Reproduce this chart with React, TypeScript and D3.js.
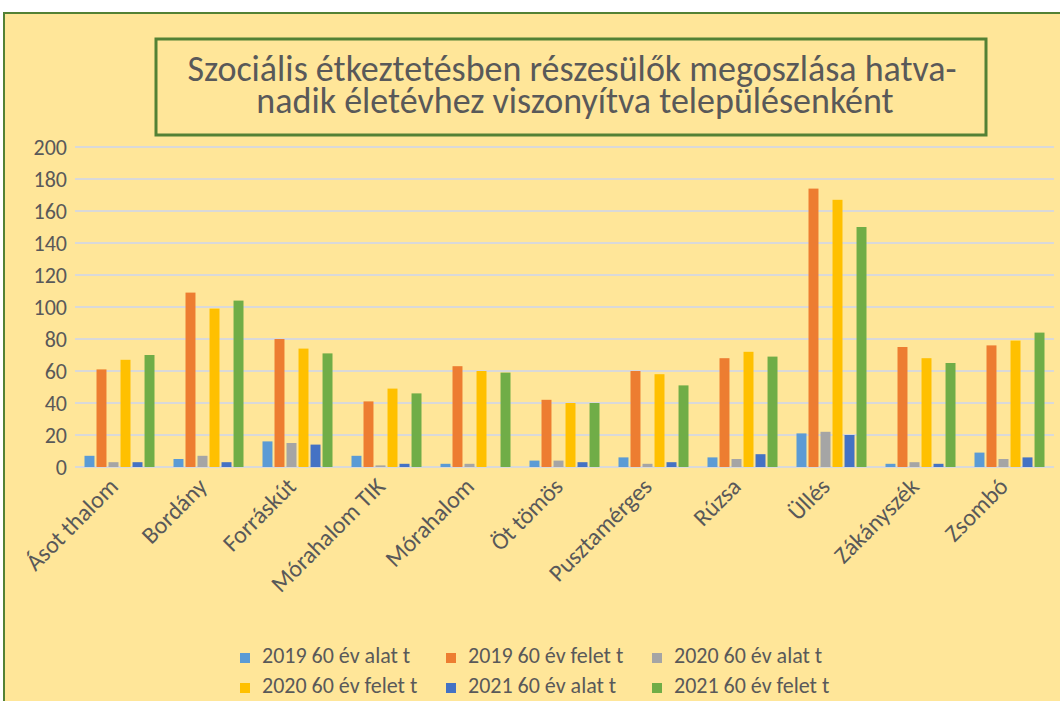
import React from "react";
import * as d3 from "d3";

const categories = [
  "Ásot thalom",
  "Bordány",
  "Forráskút",
  "Mórahalom TIK",
  "Mórahalom",
  "Öt tömös",
  "Pusztamérges",
  "Rúzsa",
  "Üllés",
  "Zákányszék",
  "Zsombó",
];

const seriesNames = [
  "2019 60 év alat t",
  "2019 60 év felet t",
  "2020 60 év alat t",
  "2020 60 év felet t",
  "2021 60 év alat t",
  "2021 60 év felet t",
];

const colors = ["#5B9BD5", "#ED7D31", "#A5A5A5", "#FFC000", "#4472C4", "#70AD47"];

// one array per series, in category order
const under2019 = [7, 5, 16, 7, 2, 4, 6, 6, 21, 2, 9];
const over2019 = [61, 109, 80, 41, 63, 42, 60, 68, 174, 75, 76];
const under2020 = [3, 7, 15, 1, 2, 4, 2, 5, 22, 3, 5];
const over2020 = [67, 99, 74, 49, 60, 40, 58, 72, 167, 68, 79];
const under2021 = [3, 3, 14, 2, 0, 3, 3, 8, 20, 2, 6];
const over2021 = [70, 104, 71, 46, 59, 40, 51, 69, 150, 65, 84];

const seriesValues = [under2019, over2019, under2020, over2020, under2021, over2021];

const yTicks = [0, 20, 40, 60, 80, 100, 120, 140, 160, 180, 200];

const W = 1060;
const H = 701;
const plot = { left: 75, right: 1054, top: 147, bottom: 467 };
const font = "Carlito, Lato, 'Open Sans', sans-serif";
const textColor = "#595959";

export default function App() {
  const x0 = d3
    .scaleBand<string>()
    .domain(categories)
    .range([plot.left, plot.right])
    .padding(0);

  const x1 = d3
    .scaleBand<string>()
    .domain(seriesNames)
    .range([9.5, 79.5])
    .paddingInner(0.17);

  const y = d3.scaleLinear().domain([0, 200]).range([plot.bottom, plot.top]);

  return (
    <svg
      width={W}
      height={H}
      style={{ position: "absolute", left: 0, top: 0, display: "block" }}
    >
      <rect x={0} y={0} width={W} height={H} fill="#ffffff" />
      <rect x={4} y={13} width={W} height={H} fill="#FFE699" stroke="#538135" strokeWidth={2} />

      {/* gridlines */}
      {yTicks.map((t) => (
        <line
          key={t}
          x1={plot.left}
          x2={plot.right}
          y1={y(t)}
          y2={y(t)}
          stroke="#D9D9D9"
          strokeWidth={2}
        />
      ))}

      {/* y tick labels */}
      {yTicks.map((t) => (
        <text
          key={"l" + t}
          x={67}
          y={y(t)}
          dy="0.35em"
          textAnchor="end"
          fontFamily={font}
          fontSize={22}
          fill={textColor}
        >
          {t}
        </text>
      ))}

      {/* bars */}
      {categories.map((c, ci) => (
        <g key={c} transform={`translate(${x0(c)},0)`}>
          {seriesNames.map((s, si) => {
            const v = seriesValues[si][ci];
            return (
              <rect
                key={s}
                x={x1(s)}
                y={y(v)}
                width={x1.bandwidth()}
                height={plot.bottom - y(v)}
                fill={colors[si]}
              />
            );
          })}
        </g>
      ))}

      {/* x labels */}
      {categories.map((c) => {
        const cx = (x0(c) ?? 0) + x0.bandwidth() / 2;
        return (
          <text
            key={"x" + c}
            transform={`translate(${cx},${488}) rotate(-45)`}
            textAnchor="end"
            fontFamily={font}
            fontSize={24}
            fill={textColor}
          >
            {c}
          </text>
        );
      })}

      {/* title box */}
      <rect x={156} y={39} width={830} height={96} fill="#FFE699" stroke="#538135" strokeWidth={3} />
      <text
        x={572}
        y={81}
        textAnchor="middle"
        fontFamily={font}
        fontSize={36}
        fill={textColor}
      >
        Szociális étkeztetésben részesülők megoszlása hatva-
      </text>
      <text
        x={575}
        y={113}
        textAnchor="middle"
        fontFamily={font}
        fontSize={36}
        fill={textColor}
      >
        nadik életévhez viszonyítva településenként
      </text>

      {/* legend */}
      {seriesNames.map((s, i) => {
        const col = i % 3;
        const row = Math.floor(i / 3);
        const lx = [240, 446, 652][col];
        const ly = 663 + row * 30;
        return (
          <g key={"lg" + s}>
            <rect x={lx} y={ly - 10} width={10} height={10} fill={colors[i]} />
            <text x={lx + 22} y={ly} fontFamily={font} fontSize={22} fill={textColor}>
              {s}
            </text>
          </g>
        );
      })}
    </svg>
  );
}
